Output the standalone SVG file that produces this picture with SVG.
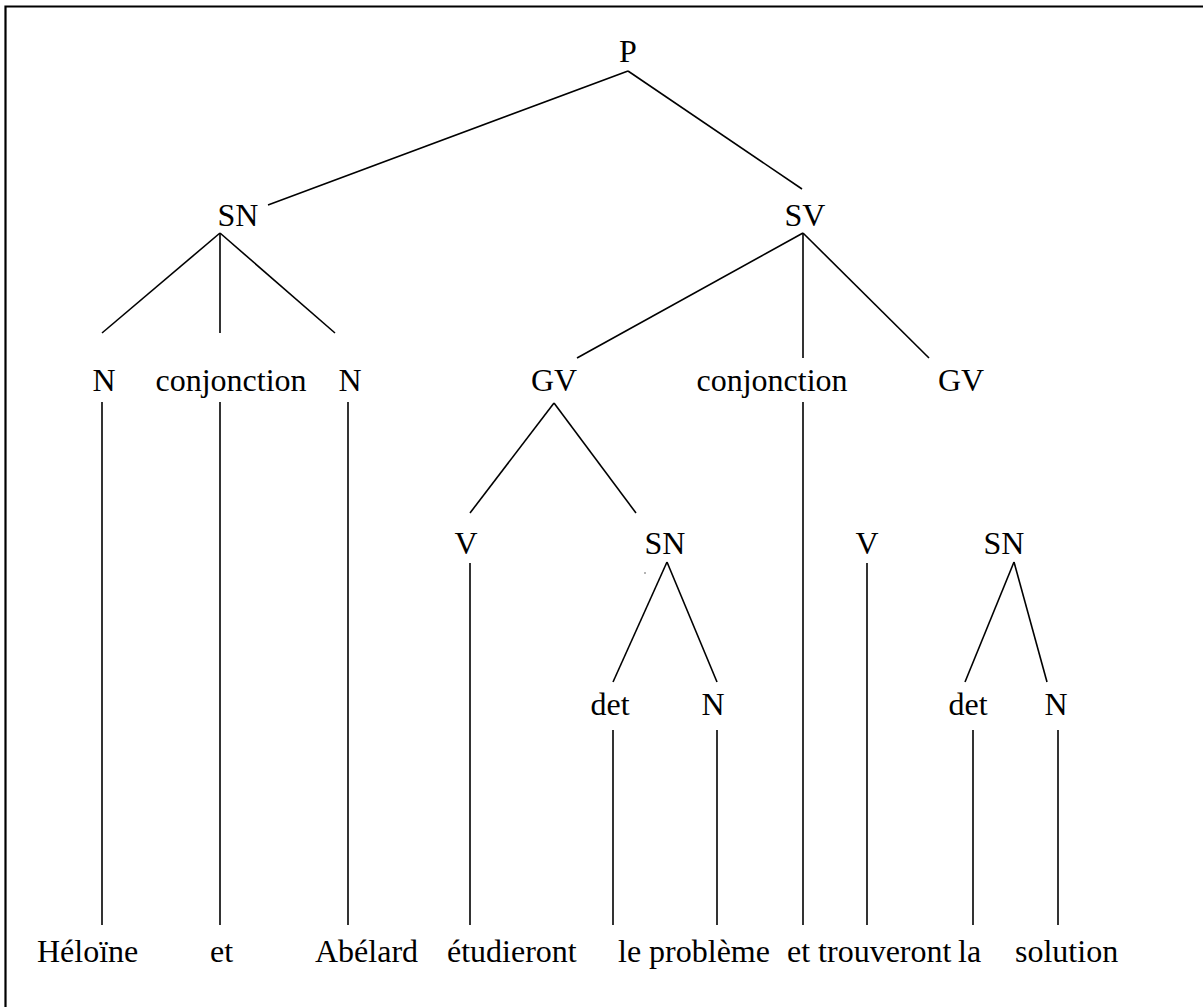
<svg xmlns="http://www.w3.org/2000/svg" width="1203" height="1007" viewBox="0 0 1203 1007">
<style>
text{font-family:"Liberation Serif","Times New Roman",serif;font-size:32px;fill:#000;text-anchor:middle}
.w{text-anchor:start}
line{stroke:#000;stroke-width:1.6;fill:none}
</style>
<rect x="0" y="0" width="1203" height="1007" fill="#fff"/>
<path d="M5.5 1010 V6.5 H1210" fill="none" stroke="#000" stroke-width="2.2"/>
<g id="connectors">
<line x1="628" y1="71" x2="268" y2="205"/>
<line x1="628" y1="71" x2="802" y2="189"/>
<line x1="220" y1="233" x2="102" y2="333"/>
<line x1="220" y1="233" x2="220" y2="333"/>
<line x1="220" y1="233" x2="335" y2="333"/>
<line x1="803" y1="233" x2="577" y2="358"/>
<line x1="803" y1="233" x2="803" y2="358"/>
<line x1="803" y1="233" x2="929" y2="358"/>
<line x1="102" y1="402" x2="102" y2="925"/>
<line x1="220" y1="402" x2="220" y2="925"/>
<line x1="348" y1="402" x2="348" y2="925"/>
<line x1="803" y1="402" x2="803" y2="925"/>
<line x1="554" y1="403" x2="470" y2="513"/>
<line x1="554" y1="403" x2="636" y2="513"/>
<line x1="470" y1="563" x2="470" y2="925"/>
<line x1="867" y1="563" x2="867" y2="925"/>
<line x1="667" y1="562" x2="613" y2="682"/>
<line x1="667" y1="562" x2="717" y2="682"/>
<line x1="1014" y1="562" x2="965" y2="682"/>
<line x1="1014" y1="562" x2="1047" y2="682"/>
<line x1="613" y1="730" x2="613" y2="925"/>
<line x1="717" y1="730" x2="717" y2="925"/>
<line x1="973" y1="730" x2="973" y2="925"/>
<line x1="1058" y1="730" x2="1058" y2="925"/>
</g>
<circle cx="645" cy="573" r="0.8" fill="#555"/>
<g id="n-P"><text x="628" y="62">P</text></g>
<g id="n-SN1"><text x="238" y="226">SN</text></g>
<g id="n-SV"><text x="805" y="226">SV</text></g>
<g id="n-N1"><text x="104" y="391">N</text></g>
<g id="n-conj1"><text x="231" y="391">conjonction</text></g>
<g id="n-N2"><text x="350" y="391">N</text></g>
<g id="n-GV1"><text x="554" y="391">GV</text></g>
<g id="n-conj2"><text x="772" y="391">conjonction</text></g>
<g id="n-GV2"><text x="961" y="391">GV</text></g>
<g id="n-V1"><text x="466" y="554">V</text></g>
<g id="n-SN2"><text x="665" y="554">SN</text></g>
<g id="n-V2"><text x="867" y="554">V</text></g>
<g id="n-SN3"><text x="1004" y="554">SN</text></g>
<g id="n-det1"><text x="610" y="715">det</text></g>
<g id="n-N3"><text x="713" y="715">N</text></g>
<g id="n-det2"><text x="968" y="715">det</text></g>
<g id="n-N4"><text x="1056" y="715">N</text></g>
<g id="words">
<text class="w" x="37" y="962">Héloïne</text>
<text class="w" x="210" y="962">et</text>
<text class="w" x="315" y="962">Abélard</text>
<text class="w" x="447" y="962">étudieront</text>
<text class="w" x="618" y="962">le problème</text>
<text class="w" x="787" y="962">et trouveront</text>
<text class="w" x="958" y="962">la</text>
<text class="w" x="1015" y="962">solution</text>
</g>
</svg>
